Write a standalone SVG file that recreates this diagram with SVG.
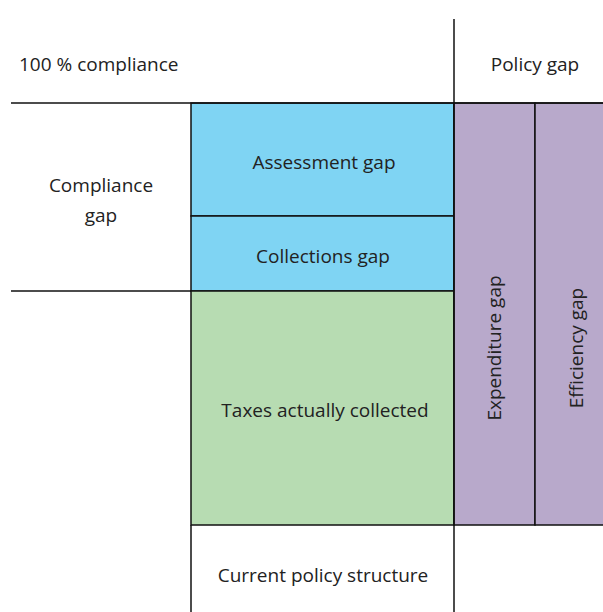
<svg xmlns="http://www.w3.org/2000/svg" width="603" height="612" viewBox="0 0 603 612">
<style>
text{font-family:"Open Sans","Noto Sans",sans-serif;font-size:19px;fill:#222;}
.c{text-anchor:middle;}
.ln{stroke:#111;stroke-width:1.5;fill:none;}
.box{stroke:#111;stroke-width:1.5;}
</style>
<rect x="0" y="0" width="603" height="612" fill="#fff"/>
<g id="assessment"><rect class="box" x="191" y="103" width="263" height="113" fill="#7FD4F3"/><text class="c" x="324" y="169">Assessment gap</text></g>
<g id="collections"><rect class="box" x="191" y="216" width="263" height="75" fill="#7FD4F3"/><text class="c" x="323" y="263">Collections gap</text></g>
<g id="taxes"><rect class="box" x="191" y="291" width="263" height="234" fill="#B7DCB2"/><text class="c" x="325" y="417">Taxes actually collected</text></g>
<g id="expenditure"><rect class="box" x="454" y="103" width="81" height="422" fill="#B8A9CB"/><text class="c" transform="translate(501 348) rotate(-90)">Expenditure gap</text></g>
<g id="efficiency"><rect class="box" x="535" y="103" width="70" height="422" fill="#B8A9CB"/><text class="c" transform="translate(583 348) rotate(-90)">Efficiency gap</text></g>
<g id="connectors">
<line class="ln" x1="11" y1="103" x2="603" y2="103"/>
<line class="ln" x1="454" y1="19" x2="454" y2="612"/>
<line class="ln" x1="11" y1="291" x2="191" y2="291"/>
<line class="ln" x1="191" y1="525" x2="191" y2="612"/>
</g>
<g id="labels">
<text x="19" y="71">100 % compliance</text>
<text class="c" x="535" y="71">Policy gap</text>
<text class="c" x="101" y="192">Compliance</text>
<text class="c" x="101" y="222">gap</text>
<text class="c" x="323" y="582">Current policy structure</text>
</g>
</svg>
